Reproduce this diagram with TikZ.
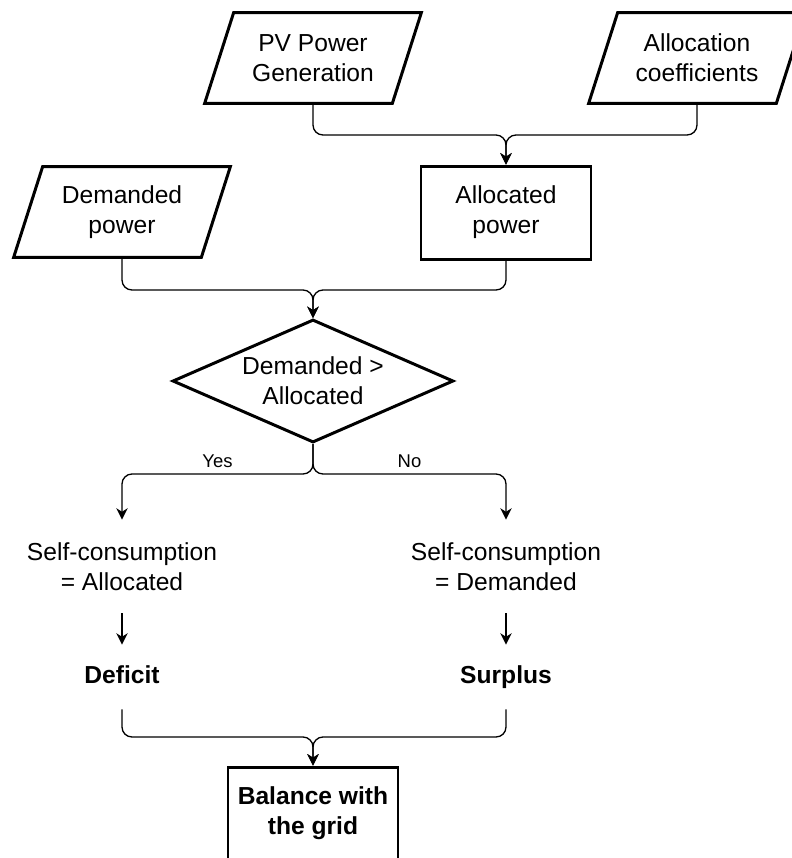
\documentclass[tikz,border=0pt]{standalone}
\usepackage{fontspec}
\setmainfont{Liberation Sans}
\usetikzlibrary{shapes.geometric, arrows.meta}

\begin{document}
\begin{tikzpicture}[>={Stealth[length=6.5pt,width=6.5pt,inset=2pt]},
  font=\fontsize{14}{17}\selectfont,
  inbox/.style={minimum width=3.74cm, minimum height=1.8cm, align=center, inner sep=0pt},
  procbox/.style={draw, line width=1.7pt, minimum width=3.4cm,
    minimum height=1.86cm, align=center},
  decbox/.style={draw, line width=1.7pt, diamond, aspect=2.28, inner sep=1pt,
    minimum width=5.62cm, minimum height=2.46cm, align=center},
  txt/.style={align=center, inner sep=0pt, minimum height=#1},
  res/.style={txt=1.28cm, font=\fontsize{14}{17}\selectfont\bfseries,
    text height=10pt, text depth=3pt},
  flow/.style={->, line width=0.75pt, rounded corners=0.2cm},
  lbl/.style={font=\fontsize{10.5}{12}\selectfont}]
\useasboundingbox (0,0) rectangle (15.84,-17.16);
% inputs
\node[inbox] (pv) at (6.26,-1.16) {PV Power\\Generation};
\node[inbox] (coef) at (13.94,-1.16) {Allocation\\coefficients};
\node[inbox] (dem) at (2.44,-4.24) {Demanded\\power};
\foreach \n in {pv,coef,dem}
  \draw[line width=1.7pt] ([xshift=-0.29cm]\n.south west) -- ([xshift=-0.29cm]\n.south east)
    -- ([xshift=0.29cm]\n.north east) -- ([xshift=0.29cm]\n.north west) -- cycle;
\node[procbox] (alloc) at (10.12,-4.25) {Allocated\\power};
% comparison
\node[decbox] (cmp) at (6.26,-7.62) {Demanded >\\Allocated};
\node[txt=1.86cm] (selfL) at (2.44,-11.33) {Self-consumption\\= Allocated};
\node[txt=1.86cm] (selfR) at (10.12,-11.33) {Self-consumption\\= Demanded};
\node[res] (defi) at (2.44,-13.54) {Deficit};
\node[res] (surp) at (10.12,-13.54) {Surplus};
% result
\node[procbox, font=\fontsize{14}{17}\selectfont\bfseries] (grid) at (6.26,-16.27) {Balance with\\the grid};
% junctions
\coordinate (j1) at (alloc.north |- 0,-2.7);
\coordinate (j2) at (cmp.north |- 0,-5.8);
\coordinate (j3) at (cmp.south |- 0,-9.48);
\coordinate (j4) at (grid.north |- 0,-14.74);
% connectors
\draw[flow] (pv.south) |- (j1) -- (alloc.north);
\draw[flow] (coef.south) |- (j1) -- (alloc.north);
\draw[flow] (dem.south) |- (j2) -- (cmp.north);
\draw[flow] (alloc.south) |- (j2) -- (cmp.north);
\draw[flow] (cmp.south) -- (j3) -| node[lbl, pos=0.25, above]{Yes} (selfL.north);
\draw[flow] (cmp.south) -- (j3) -| node[lbl, pos=0.25, above]{No} (selfR.north);
\draw[flow] (selfL) -- (defi);
\draw[flow] (selfR) -- (surp);
\draw[flow] (defi.south) |- (j4) -- (grid.north);
\draw[flow] (surp.south) |- (j4) -- (grid.north);
\end{tikzpicture}
\end{document}
